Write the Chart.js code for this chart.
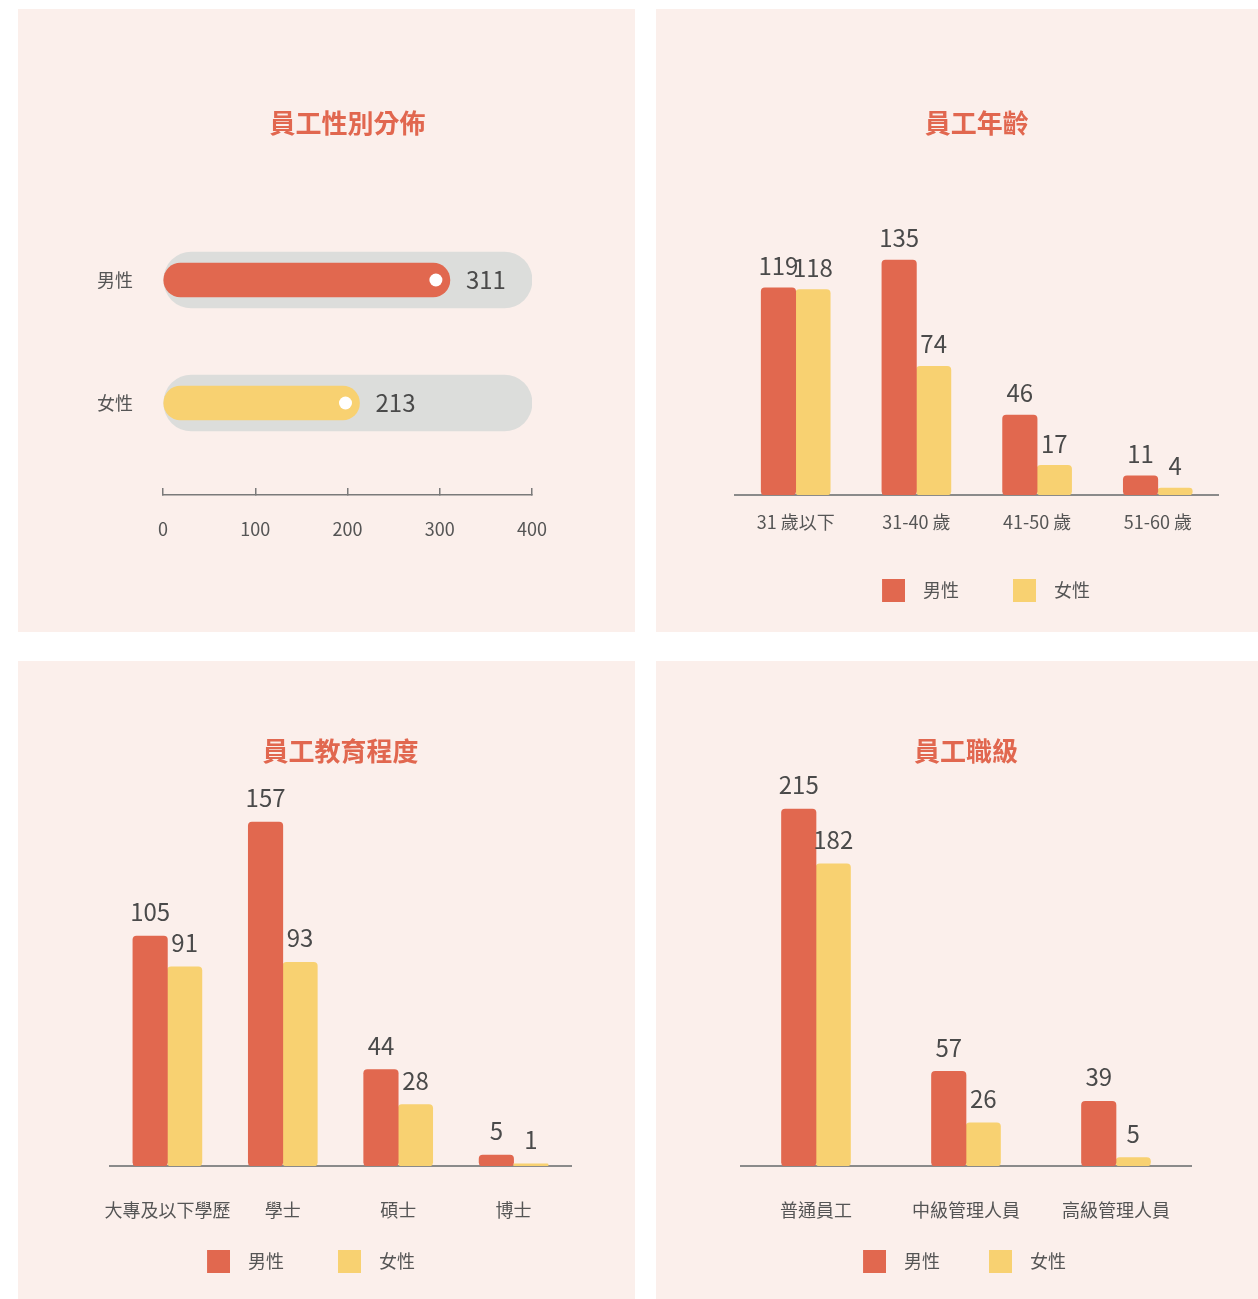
<!DOCTYPE html>
<html lang="zh-Hant">
<head>
<meta charset="utf-8">
<script src="https://cdn.jsdelivr.net/npm/chart.js@4.4.1/dist/chart.umd.min.js"></script>
<style>
  html, body { margin:0; padding:0; background:#ffffff; overflow:hidden; width:1258px; height:1299px; }
  .panel { position:absolute; background:#FBEFEB; overflow:hidden; }
  #p1 { left:18px; top:9px; width:617px; height:623px; }
  #p2 { left:656px; top:9px; width:617px; height:623px; }
  #p3 { left:18px; top:661px; width:617px; height:650px; }
  #p4 { left:656px; top:661px; width:617px; height:650px; }
  canvas { position:absolute; left:0; top:0; }
</style>
</head>
<body>
<div class="panel" id="p1"><canvas id="c1" width="617" height="623"></canvas></div>
<div class="panel" id="p2"><canvas id="c2" width="617" height="623"></canvas></div>
<div class="panel" id="p3"><canvas id="c3" width="617" height="638"></canvas></div>
<div class="panel" id="p4"><canvas id="c4" width="617" height="638"></canvas></div>
<script>
// ---------------- data ----------------
const seriesNames = ['男性', '女性'];

const genderTitle = '員工性別分佈';
const genderCats = ['男性', '女性'];
const genderValues = [311, 213];
const genderTicks = [0, 100, 200, 300, 400];

const ageTitle = '員工年齡';
const ageCats = ['31 歲以下', '31-40 歲', '41-50 歲', '51-60 歲'];
const ageMale = [119, 135, 46, 11];
const ageFemale = [118, 74, 17, 4];

const eduTitle = '員工教育程度';
const eduCats = ['大專及以下學歷', '學士', '碩士', '博士'];
const eduMale = [105, 157, 44, 5];
const eduFemale = [91, 93, 28, 1];

const rankTitle = '員工職級';
const rankCats = ['普通員工', '中級管理人員', '高級管理人員'];
const rankMale = [215, 57, 39];
const rankFemale = [182, 26, 5];

// ---------------- style ----------------
const RED = '#E1684F';
const YELLOW = '#F8D171';
const GRAY = '#DCDDDB';
const BG = '#FBEFEB';
const TITLE = '#E1674F';
const TEXT = '#555555';
const VALUE = '#4a4a4a';
const FONT = '"Noto Sans CJK TC", "Noto Sans CJK SC", "Noto Sans", sans-serif';

Chart.defaults.font.family = FONT;
Chart.defaults.color = TEXT;

// value labels above vertical bars
function valueLabelPlugin(gap) {
  return {
    id: 'valueLabels',
    afterDatasetsDraw(chart) {
      const ctx = chart.ctx;
      ctx.save();
      ctx.font = '24px ' + FONT;
      ctx.fillStyle = VALUE;
      ctx.textAlign = 'center';
      ctx.textBaseline = 'middle';
      chart.data.datasets.forEach((ds, di) => {
        chart.getDatasetMeta(di).data.forEach((bar, i) => {
          ctx.fillText(String(ds.data[i]), bar.x, bar.y - gap);
        });
      });
      ctx.restore();
    }
  };
}

// legend swatch: 23px square placed at the right end of a wider transparent image
function swatch(color, w) {
  const c = document.createElement('canvas');
  c.width = w; c.height = 23;
  const g = c.getContext('2d');
  g.fillStyle = color;
  g.fillRect(w - 23, 0, 23, 23);
  return c;
}

function legendMaker(bw) {
  return (chart) => chart.data.datasets.map((ds, i) => ({
    text: ds.label,
    fillStyle: ds.backgroundColor,
    strokeStyle: ds.backgroundColor,
    lineWidth: 0,
    pointStyle: swatch(ds.backgroundColor, bw - 18),
    fontColor: TEXT,
    hidden: false,
    datasetIndex: i
  }));
}

function groupedBar(id, cats, male, female, title, cfg) {
  return new Chart(document.getElementById(id), {
    type: 'bar',
    data: {
      labels: cats,
      datasets: [
        { label: seriesNames[0], data: male, backgroundColor: RED },
        { label: seriesNames[1], data: female, backgroundColor: YELLOW }
      ]
    },
    options: {
      responsive: false,
      animation: false,
      events: [],
      layout: { padding: { left: cfg.padL, right: cfg.padR, top: 0, bottom: cfg.padB } },
      datasets: { bar: { barThickness: 34.5, borderRadius: 4, borderSkipped: false } },
      scales: {
        x: {
          z: 1,
          grid: { display: false, drawTicks: false },
          border: { display: true, color: '#8a8a8a', width: 2 },
          ticks: { padding: cfg.labelPad, font: { size: 18 }, color: TEXT, maxRotation: 0, autoSkip: false },
          afterFit(s) { s.height = cfg.xH; }
        },
        y: {
          min: 0, max: cfg.ymax,
          grid: { display: false, drawTicks: false },
          border: { display: false },
          ticks: { display: false },
          afterFit(s) { s.width = cfg.lw; }
        },
        y2: {
          type: 'linear', position: 'right',
          grid: { display: false, drawTicks: false },
          border: { display: false },
          ticks: { display: false },
          afterFit(s) { s.width = cfg.rw; }
        }
      },
      plugins: {
        title: {
          display: true, text: title, fullSize: false, color: TITLE,
          font: { size: 26, weight: 'bold' },
          padding: { top: cfg.tpt, bottom: cfg.tpb }
        },
        legend: {
          position: 'bottom',
          labels: {
            usePointStyle: true, pointStyleWidth: cfg.bw, padding: 10,
            font: { size: 18 }, color: TEXT, generateLabels: legendMaker(cfg.bw)
          }
        },
        tooltip: { enabled: false }
      }
    },
    plugins: [valueLabelPlugin(cfg.gap)]
  });
}

// ---------------- panel 1: gender (horizontal progress bars) ----------------
const genderMax = genderTicks[genderTicks.length - 1];
const genderPlugin = {
  id: 'genderDecor',
  afterDatasetsDraw(chart) {
    const ctx = chart.ctx;
    const meta = chart.getDatasetMeta(0);
    ctx.save();
    meta.data.forEach((bar, i) => {
      ctx.beginPath();
      ctx.fillStyle = '#ffffff';
      ctx.arc(bar.x - 14, bar.y, 6.5, 0, Math.PI * 2);
      ctx.fill();
      ctx.font = '24px ' + FONT;
      ctx.fillStyle = VALUE;
      ctx.textAlign = 'left';
      ctx.textBaseline = 'middle';
      ctx.fillText(String(genderValues[i]), bar.x + 16, bar.y);
    });
    ctx.restore();
  }
};

new Chart(document.getElementById('c1'), {
  type: 'bar',
  data: {
    datasets: [
      {
        label: '人數', data: genderValues.map((v, i) => ({ x: v, y: i })),
        backgroundColor: [RED, YELLOW], barThickness: 34, borderRadius: 17,
        borderSkipped: false, grouped: false, order: 0
      },
      {
        label: '總量', data: genderCats.map((c, i) => ({ x: genderMax, y: i })),
        backgroundColor: GRAY, barThickness: 56, borderRadius: 28,
        borderSkipped: false, grouped: false, order: 1
      }
    ]
  },
  options: {
    indexAxis: 'y',
    responsive: false,
    animation: false,
    events: [],
    layout: { padding: { left: 0, right: 0, top: 0, bottom: 0 } },
    scales: {
      x: {
        type: 'linear', min: genderTicks[0], max: genderMax,
        afterBuildTicks(s) { s.ticks = genderTicks.map(v => ({ value: v })); },
        ticks: { padding: 30.2, font: { size: 18 }, color: TEXT },
        grid: { display: true, drawOnChartArea: false, drawTicks: true, tickLength: -7, color: '#7a7a7a', lineWidth: 1.5 },
        border: { display: true, color: '#7a7a7a', width: 1.5 },
        afterFit(s) { s.height = 137; }
      },
      y: {
        type: 'linear', reverse: true, min: -1, max: 1.748, offset: false,
        afterBuildTicks(s) { s.ticks = genderCats.map((c, i) => ({ value: i })); },
        ticks: { callback: (v) => genderCats[v], padding: 30, font: { size: 18 }, color: TEXT },
        grid: { display: false, drawTicks: false, offset: false },
        border: { display: false },
        afterFit(s) { s.width = 145; }
      },
      y2: {
        type: 'linear', position: 'right',
        grid: { display: false, drawTicks: false },
        border: { display: false },
        ticks: { display: false },
        afterFit(s) { s.width = 103; }
      }
    },
    plugins: {
      legend: { display: false },
      tooltip: { enabled: false },
      title: {
        display: true, text: genderTitle, fullSize: false, color: TITLE,
        font: { size: 26, weight: 'bold' },
        padding: { top: 98.4, bottom: 18.4 }
      }
    }
  },
  plugins: [genderPlugin]
});

// ---------------- panels 2-4 ----------------
groupedBar('c2', ageCats, ageMale, ageFemale, ageTitle, {
  padL: 46, padR: 47, padB: 23, lw: 33.35, rw: 7.85,
  tpt: 98.4, tpb: 8.4, ymax: 200,
  xH: 76, labelPad: 16.2, bw: 76, gap: 22
});

groupedBar('c3', eduCats, eduMale, eduFemale, eduTitle, {
  padL: -20, padR: 55, padB: 19, lw: 111.7, rw: 8.7,
  tpt: 74.4, tpb: 5.2, ymax: 180,
  xH: 76, labelPad: 33.2, bw: 76, gap: 24
});

groupedBar('c4', rankCats, rankMale, rankFemale, rankTitle, {
  padL: 38, padR: 77, padB: 19, lw: 47, rw: 5,
  tpt: 74.4, tpb: 1.0, ymax: 240,
  xH: 76, labelPad: 33.2, bw: 71, gap: 24
});
</script>
</body>
</html>
